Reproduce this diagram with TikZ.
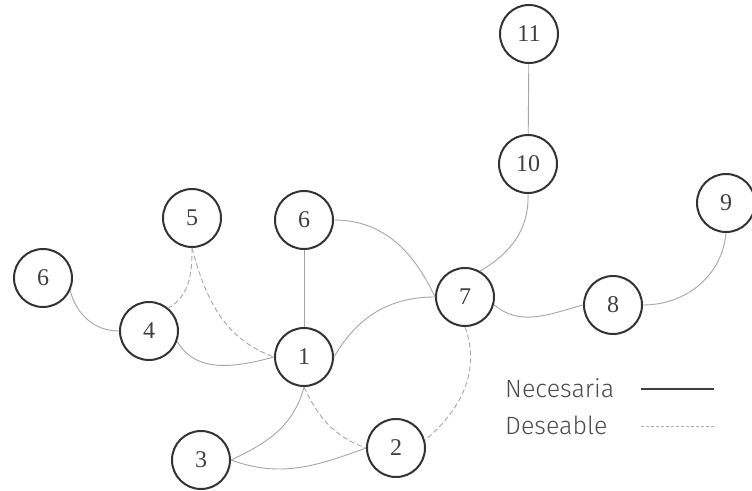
\documentclass[tikz,border=0pt]{standalone}
\usepackage{fontspec}
\setmainfont{Liberation Serif}
\newfontfamily\legfont{Fira Sans Light}
\begin{document}
\begin{tikzpicture}[x=1pt,y=-1pt,
  vtx/.style={circle,draw=black!80,line width=2pt,minimum size=58pt,inner sep=0pt,font=\fontsize{24}{24}\selectfont,text=black!75},
  nec/.style={draw=black!35,line width=0.9pt},
  des/.style={draw=black!35,line width=0.9pt,dash pattern=on 5pt off 3pt},
  leg/.style={font=\legfont\fontsize{25}{25}\selectfont,text=black!70,anchor=west,inner sep=0pt}]
\useasboundingbox[fill=white] (0,0) rectangle (752,490);
\node[vtx] (n11) at (529,34) {11};
\node[vtx] (n10) at (528,164) {10};
\node[vtx] (n9) at (726,203) {9};
\node[vtx] (n5) at (192,218) {5};
\node[vtx] (n6a) at (304,220) {6};
\node[vtx] (n6b) at (43,278) {6};
\node[vtx] (n4) at (149,331) {4};
\node[vtx] (n1) at (304,357) {1};
\node[vtx] (n3) at (201,460) {3};
\node[vtx] (n2) at (396,448) {2};
\node[vtx] (n7) at (465,297) {7};
\node[vtx] (n8) at (613,305) {8};
% connectors
\draw[nec] (n11) -- (n10);
\draw[nec] (n6a) -- (n1);
\draw[nec] (n6b.-25) to[out=-75,in=180] (n4.west);
\draw[des] (n5.south) to[out=-90,in=30] (n4.50);
\draw[des] (n5.south) to[out=-75,in=160] (n1.west);
\draw[nec] (n4.-20) to[out=-60,in=195] (n1.west);
\draw[nec] (n1.east) to[out=60,in=180] (n7.west);
\draw[nec] (n6a.east) to[out=0,in=115] (n7.west);
\draw[nec] (n1.south) to[out=-105,in=25] (n3.east);
\draw[nec] (n3.east) to[out=-20,in=200] (n2.west);
\draw[des] (n1.south) to[out=-65,in=160] (n2.west);
\draw[des] (n7.south) to[out=-70,in=40] (n2.15);
\draw[nec] (n7.-15) to[out=-40,in=195] (n8.west);
\draw[nec] (n8.east) to[out=0,in=-95] (n9.south);
\draw[nec] (n10.south) to[out=-88,in=30] (n7.60);
% legend
\node[leg] (lnec) at (505,388) {Necesaria};
\node[leg] (ldes) at (505,425) {Deseable};
\coordinate (la) at (641,389);
\coordinate (lb) at (714,389);
\coordinate (lc) at (641,426);
\coordinate (ld) at (714,426);
\draw[draw=black!75,line width=1.2pt] (la) -- (lb);
\draw[draw=black!30,line width=0.9pt,dash pattern=on 3pt off 2pt] (lc) -- (ld);
\end{tikzpicture}
\end{document}
